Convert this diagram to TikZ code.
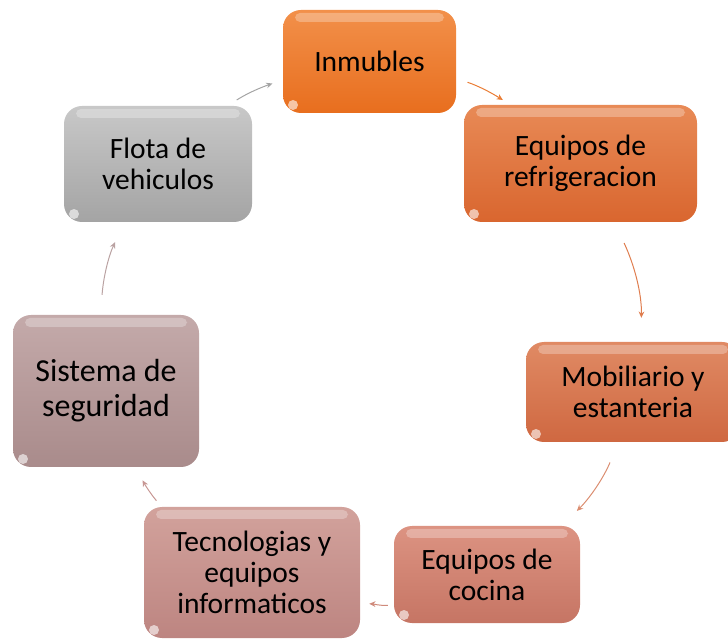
\documentclass[tikz,border=0pt]{standalone}
\usepackage{fontspec}
\setmainfont{Carlito}
\usetikzlibrary{arrows.meta}
\definecolor{inmtop}{HTML}{F2904A}
\definecolor{inmbot}{HTML}{E86E1E}
\definecolor{reftop}{HTML}{E88A56}
\definecolor{refbot}{HTML}{D9662F}
\definecolor{mobtop}{HTML}{E08A64}
\definecolor{mobbot}{HTML}{CF6841}
\definecolor{coctop}{HTML}{DC9382}
\definecolor{cocbot}{HTML}{C67564}
\definecolor{tectop}{HTML}{D2A29C}
\definecolor{tecbot}{HTML}{BD8581}
\definecolor{segtop}{HTML}{C4AAAA}
\definecolor{segbot}{HTML}{A98B8B}
\definecolor{flotop}{HTML}{C8C8C8}
\definecolor{flobot}{HTML}{A4A4A4}
\tikzstyle{item} = [rounded corners=18pt, inner sep=0pt, align=center,
    font=\fontsize{29.5}{31}\selectfont,
    path picture={
      \fill[white, opacity=0.28, rounded corners=5pt]
        ([xshift=12pt,yshift=-3pt]path picture bounding box.north west) rectangle
        ([xshift=-12pt,yshift=-12pt]path picture bounding box.north east);
      \fill[white, opacity=0.6]
        ([xshift=10pt,yshift=8pt]path picture bounding box.south west) circle (5pt);}]
\tikzstyle{link} = [->, line width=1pt]
\tikzset{>={Stealth[length=2.2mm,width=2mm]}}

\begin{document}
\begin{tikzpicture}[x=1pt, y=1pt]
    \useasboundingbox (0,0) rectangle (728,640);
    %boxes
    \node[item, top color=inmtop, bottom color=inmbot,
        minimum width=173pt, minimum height=103pt] (inm) at (369.5,578.5) {Inmubles};
    \node[item, top color=reftop, bottom color=refbot,
        minimum width=233pt, minimum height=117pt] (ref) at (580.5,476.5) {Equipos de\\refrigeracion};
    \node[item, top color=mobtop, bottom color=mobbot,
        minimum width=214pt, minimum height=100pt] (mob) at (633,248) {Mobiliario y\\estanteria};
    \node[item, top color=coctop, bottom color=cocbot,
        minimum width=186pt, minimum height=97pt] (coc) at (487,65.5) {Equipos de\\cocina};
    \node[item, top color=tectop, bottom color=tecbot,
        minimum width=216pt, minimum height=131pt] (tec) at (252,67.5) {Tecnologias y\\equipos\\informaticos};
    \node[item, top color=segtop, bottom color=segbot, font=\fontsize{32}{35}\selectfont,
        minimum width=186pt, minimum height=152pt] (seg) at (106,249) {Sistema de\\seguridad};
    \node[item, top color=flotop, bottom color=flobot,
        minimum width=188pt, minimum height=116pt] (flo) at (158,476) {Flota de\\vehiculos};
    %arrows
    \draw[link, color=flobot, shorten <=11pt, shorten >=11pt]
        (flo.40) to[out=32, in=199] (inm.192);
    \draw[link, color=inmbot!90!white, shorten <=12pt, shorten >=9pt]
        (inm.349) to[out=-19, in=148] (ref.140);
    \draw[link, color=refbot!85!white, shorten <=23pt, shorten >=24pt]
        (ref.300) to[out=-65, in=89] (mob.81);
    \draw[link, color=mobbot!75!white, shorten <=22pt, shorten >=21pt]
        (mob.254) to[out=247, in=45] (coc.33);
    \draw[link, color=cocbot!85!white, shorten <=6pt, shorten >=9pt]
        (coc.198) to[out=185, in=-2] (tec.344);
    \draw[link, color=tecbot!85!white, shorten <=8pt, shorten >=15pt]
        (tec.144) to[out=130, in=-61] (seg.291);
    \draw[link, color=segbot!80!white, shorten <=20pt, shorten >=22pt]
        (seg.94) to[out=86, in=245] (flo.240);
\end{tikzpicture}
\end{document}
